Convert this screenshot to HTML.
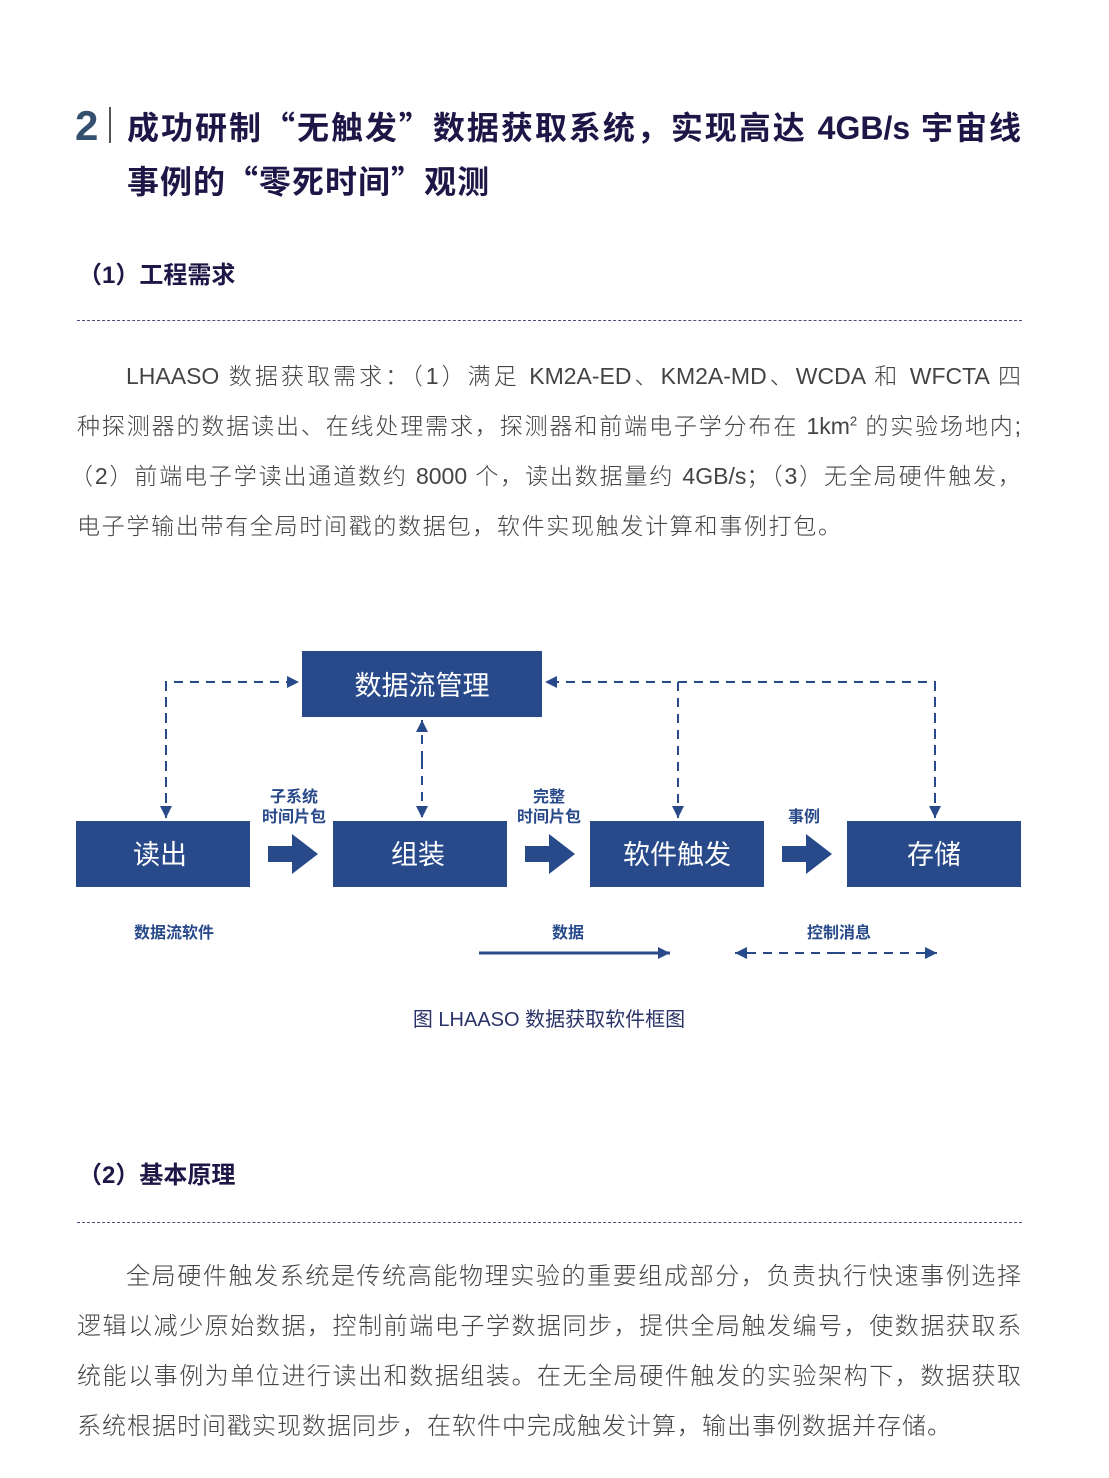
<!DOCTYPE html>
<html><head><meta charset="utf-8"><style>
body{margin:0;width:1109px;height:1478px;background:#fff;position:relative;font-family:"Liberation Sans","Noto Sans CJK SC",sans-serif;overflow:hidden}
.a{position:absolute}
.q{font-family:"Noto Sans CJK SC",sans-serif}
.h{color:#1e1646;font-weight:bold;font-size:32px;line-height:40px;white-space:nowrap}
.sub{color:#1e1646;font-weight:bold;font-size:24px;line-height:30px;white-space:nowrap}
.dash{position:absolute;left:77px;width:945px;border-top:1.5px dashed #4a4f7a}
.ln{position:absolute;left:77px;width:944px;font-size:23px;color:#444;line-height:30px;text-align:justify;text-align-last:justify;white-space:nowrap;font-weight:300}
.ln.i{left:126px;width:895px}
.ln.x{text-align-last:left}
</style></head><body>
<div class="a" style="left:75px;top:102px;font-size:42px;font-weight:bold;color:#34506e;line-height:48px">2</div>
<div class="a" style="left:109px;top:107px;width:1.5px;height:36px;background:#555"></div>
<div class="a h" style="left:127px;top:106px;width:894px;text-align:justify;text-align-last:justify">成功研制<span class="q">“</span>无触发<span class="q">”</span>数据获取系统，实现高达 4GB/s 宇宙线</div>
<div class="a h" style="left:127px;top:160px;letter-spacing:1px">事例的<span class="q">“</span>零死时间<span class="q">”</span>观测</div>
<div class="a sub" style="left:78px;top:261px">（1）工程需求</div>
<div class="dash" style="top:320px"></div>
<div class="ln i" style="top:361px">LHAASO 数据获取需求：（1）满足 KM2A-ED、KM2A-MD、WCDA 和 WFCTA 四</div>
<div class="ln" style="top:411px">种探测器的数据读出、在线处理需求，探测器和前端电子学分布在 1km<sup style="font-size:13px;line-height:0">2</sup> 的实验场地内;</div>
<div class="ln" style="top:461px;left:70px;width:951px">（2）前端电子学读出通道数约 8000 个，读出数据量约 4GB/s；（3）无全局硬件触发，</div>
<div class="ln x" style="top:511px;letter-spacing:1.7px">电子学输出带有全局时间戳的数据包，软件实现触发计算和事例打包。</div>

<svg class="a" style="left:0;top:0" width="1109" height="1478">
<defs>
<marker id="ar" viewBox="0 0 10 10" refX="10" refY="5" markerWidth="12" markerHeight="12" markerUnits="userSpaceOnUse" orient="auto"><path d="M0,0L10,5L0,10z" fill="#284a8b"/></marker>
</defs>
<g fill="#284a8b">
<rect x="302" y="651" width="240" height="66"/>
<rect x="76" y="821" width="174" height="66"/>
<rect x="333" y="821" width="174" height="66"/>
<rect x="590" y="821" width="174" height="66"/>
<rect x="847" y="821" width="174" height="66"/>
<path d="M268,846h24v-12l26,20l-26,20v-12h-24z"/>
<path d="M525,846h24v-12l26,20l-26,20v-12h-24z"/>
<path d="M782,846h24v-12l26,20l-26,20v-12h-24z"/>
</g>
<g stroke="#284a8b" stroke-width="2" fill="none" stroke-dasharray="9,7">
<path d="M166,818V682H299" marker-end="url(#ar)"/>
<path d="M166,682V818" marker-end="url(#ar)"/>
<path d="M422,760V720" marker-end="url(#ar)"/>
<path d="M422,760V818" marker-end="url(#ar)"/>
<path d="M935,818V682H545" marker-end="url(#ar)"/>
<path d="M678,682V818" marker-end="url(#ar)"/>
<path d="M935,682V818" marker-end="url(#ar)"/>
<path d="M836,953H735" marker-end="url(#ar)"/>
<path d="M836,953H937" marker-end="url(#ar)"/>
</g>
<path d="M479,953H670" stroke="#284a8b" stroke-width="3" marker-end="url(#ar)"/>
<g font-family="Liberation Sans,Noto Sans CJK SC,sans-serif" text-anchor="middle">
<g fill="#fff" font-size="27">
<text x="422" y="695">数据流管理</text>
<text x="160" y="864">读出</text>
<text x="418" y="864">组装</text>
<text x="677" y="864">软件触发</text>
<text x="934" y="864">存储</text>
</g>
<g fill="#284a8b" font-size="16" font-weight="bold">
<text x="294" y="802">子系统</text>
<text x="294" y="822">时间片包</text>
<text x="549" y="802">完整</text>
<text x="549" y="822">时间片包</text>
<text x="804" y="822">事例</text>
<text x="174" y="938">数据流软件</text>
<text x="568" y="938">数据</text>
<text x="839" y="938">控制消息</text>
</g>
<text x="549" y="1026" fill="#2a3368" font-size="20">图  LHAASO 数据获取软件框图</text>
</g>
</svg>

<div class="a sub" style="left:78px;top:1161px">（2）基本原理</div>
<div class="dash" style="top:1222px"></div>
<div class="ln i" style="top:1262px;font-size:24px">全局硬件触发系统是传统高能物理实验的重要组成部分，负责执行快速事例选择</div>
<div class="ln" style="top:1312px;font-size:24px">逻辑以减少原始数据，控制前端电子学数据同步，提供全局触发编号，使数据获取系</div>
<div class="ln" style="top:1362px;font-size:24px">统能以事例为单位进行读出和数据组装。在无全局硬件触发的实验架构下，数据获取</div>
<div class="ln x" style="top:1412px;font-size:24px;letter-spacing:1px">系统根据时间戳实现数据同步，在软件中完成触发计算，输出事例数据并存储。</div>
</body></html>
